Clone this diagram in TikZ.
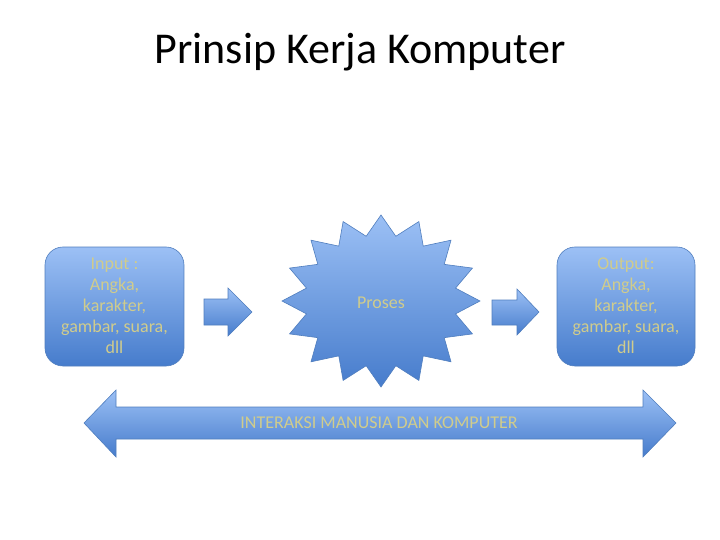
\documentclass[tikz,border=0pt]{standalone}
\usepackage{fontspec}
\setmainfont{Carlito}
\usetikzlibrary{shapes.geometric}
\definecolor{gtop}{RGB}{156,192,245}
\definecolor{gbot}{RGB}{70,124,204}
\definecolor{gline}{RGB}{80,126,190}
\definecolor{khaki}{RGB}{208,204,140}
\tikzset{
  blueshape/.style={draw=gline, line width=0.6pt, top color=gtop, bottom color=gbot},
  boxtext/.style={text=khaki, font=\fontsize{18}{21}\selectfont, align=center},
}
\begin{document}
\begin{tikzpicture}[x=1pt,y=-1pt]
\useasboundingbox (0,0) rectangle (720,540);
% title
\node (title) at (360,52) {\fontsize{44}{50}\selectfont Prinsip Kerja Komputer};
% input box
\draw[blueshape, rounded corners=18pt] (45,247) rectangle (184,366);
\node[boxtext] (input) at (114.5,306) {Input :\\Angka,\\karakter,\\gambar, suara,\\dll};
% output box
\draw[blueshape, rounded corners=18pt] (557,247) rectangle (695,366);
\node[boxtext] (output) at (626,306) {Output:\\Angka,\\karakter,\\gambar, suara,\\dll};
% left arrow
\draw[blueshape] (204,299) -- (228,299) -- (228,288) -- (252,312) -- (228,336) -- (228,325) -- (204,325) -- cycle;
% right arrow
\draw[blueshape] (492,300) -- (517,300) -- (517,289) -- (539,312) -- (517,335) -- (517,325) -- (492,325) -- cycle;
% star
\draw[blueshape] plot[samples at={0,...,31}] ({381+(mod(\x,2)==0 ? 99 : 76)*cos(90+11.25*\x)}, {301-(mod(\x,2)==0 ? 86 : 66)*sin(90+11.25*\x)}) -- cycle;
\node[boxtext] (proses) at (381,303) {Proses};
% double arrow
\draw[blueshape] (84,423) -- (116,390) -- (116,407) -- (643,407) -- (643,390) -- (676,423) -- (643,457) -- (643,439) -- (116,439) -- (116,457) -- cycle;
\node[boxtext] (hci) at (379,423) {INTERAKSI MANUSIA DAN KOMPUTER};
\end{tikzpicture}
\end{document}
